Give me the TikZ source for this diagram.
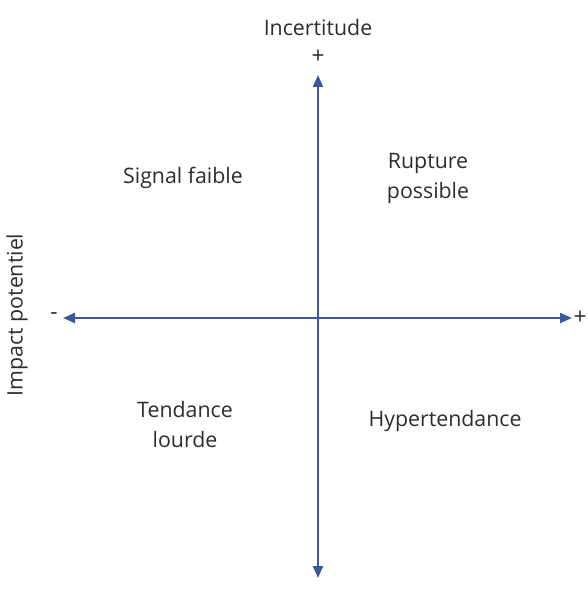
\documentclass[tikz,border=0pt]{standalone}
\usepackage{fontspec}
\setmainfont{Open Sans}
\definecolor{axisblue}{RGB}{58,88,155}
\definecolor{labelgray}{RGB}{45,45,45}
\usetikzlibrary{arrows.meta,positioning}

\begin{document}
\begin{tikzpicture}[x=0.75pt, y=-0.75pt,
  axis/.style={axisblue, line width=1.6pt, {Triangle[length=9pt, width=7.5pt]}-{Triangle[length=9pt, width=7.5pt]}},
  quadlabel/.style={text=labelgray, font=\fontsize{16}{22.5}\selectfont, align=center, inner sep=0pt},
  signlabel/.style={text=labelgray, font=\fontsize{17}{18}\selectfont, inner sep=0pt}]

\useasboundingbox (0,0) rectangle (587,591);

% axes ends
\coordinate (top) at (318,75);
\coordinate (bottom) at (318,578);
\coordinate (left) at (63,318);
\coordinate (right) at (572,318);

\draw[axis] (bottom) -- (top);
\draw[axis] (left) -- (right);

% axis titles and signs
\node[quadlabel] (incert) at (318,28) {Incertitude};
\node[signlabel] (plustop) at (318,57) {+};
\node[signlabel] (minusleft) at (54,316) {-};
\node[signlabel] (plusright) at (580,318) {+};
\node[quadlabel, rotate=90] (impact) at (17,315) {Impact potentiel};

% quadrants
\node[quadlabel] (signal) at (183,178) {Signal faible};
\node[quadlabel] (rupture) at (428,178) {Rupture\\possible};
\node[quadlabel] (tendance) at (185,424) {Tendance\\lourde};
\node[quadlabel] (hyper) at (445,421) {Hypertendance};

\end{tikzpicture}
\end{document}
